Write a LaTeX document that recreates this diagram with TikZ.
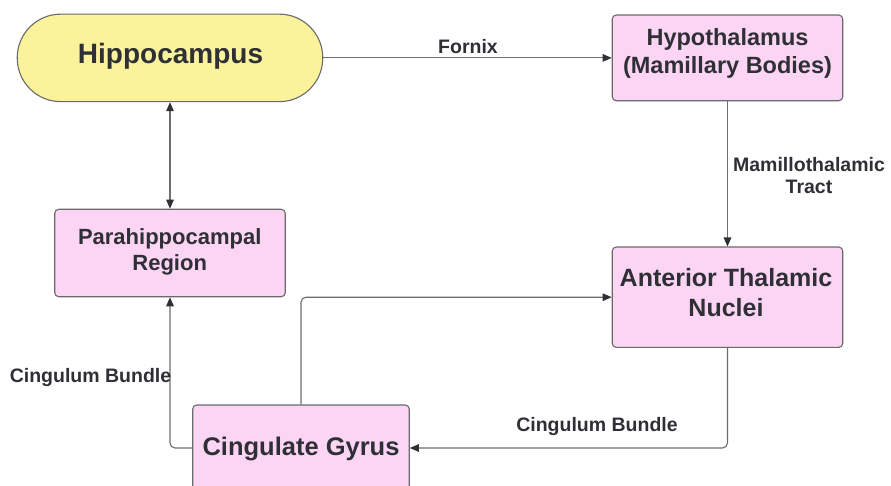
\documentclass[tikz,border=0pt]{standalone}
\usepackage{fontspec}
\setmainfont{Liberation Sans}
\usetikzlibrary{arrows.meta}
\definecolor{pinkfill}{HTML}{FCD5F5}
\definecolor{yellowfill}{HTML}{FBF29C}
\definecolor{boxline}{HTML}{6A6A6A}
\definecolor{connline}{HTML}{6E6E6E}
\definecolor{txt}{HTML}{2E3036}
\tikzset{
  pinkbox/.style={draw=boxline, line width=1.1pt, fill=pinkfill, rounded corners=4pt, inner sep=0pt},
  yellowstad/.style={draw=boxline, line width=1.1pt, fill=yellowfill, rounded corners=43.5pt, inner sep=0pt},
  boxtext/.style={text=txt, font=\bfseries, align=center, inner sep=0pt},
  lbl/.style={text=txt, font=\bfseries\fontsize{19.5}{21.7}\selectfont, align=center, inner sep=0pt},
  conn/.style={draw=connline, line width=1.1pt, rounded corners=5pt, -{Triangle[length=9pt,width=7.5pt,color=txt]}},
  conn2/.style={draw=connline, line width=1.1pt, {Triangle[length=9pt,width=7.5pt,color=txt]}-{Triangle[length=9pt,width=7.5pt,color=txt]}}
}
\begin{document}
\begin{tikzpicture}[x=1pt,y=-1pt]
\useasboundingbox (0,0) rectangle (891,486);
\clip (0,0) rectangle (891,486);
\fill[white] (0,0) rectangle (891,486);
% shapes
\node[yellowstad, minimum width=305.5pt, minimum height=87.5pt] (hip) at (170,57.9) {};
\node[pinkbox, minimum width=230.5pt, minimum height=85.7pt] (hyp) at (727.5,57.9) {};
\node[pinkbox, minimum width=230.5pt, minimum height=87.4pt] (para) at (170,253) {};
\node[pinkbox, minimum width=230.5pt, minimum height=100.3pt] (ant) at (727.5,297.2) {};
\node[pinkbox, minimum width=216.5pt, minimum height=86pt] (cing) at (301,448) {};
% texts
\node[boxtext, font=\bfseries\fontsize{28}{33.6}\selectfont, anchor=base] (thip) at (170.5,64) {Hippocampus};
\node[boxtext, font=\bfseries\fontsize{23.5}{28}\selectfont] (thyp) at (727.5,53) {Hypothalamus\\(Mamillary Bodies)};
\node[boxtext, font=\bfseries\fontsize{22}{26.2}\selectfont] (tpara) at (169.7,251.5) {Parahippocampal\\Region};
\node[boxtext, font=\bfseries\fontsize{25}{30}\selectfont] (tant) at (726,292.7) {Anterior Thalamic\\Nuclei};
\node[boxtext, font=\bfseries\fontsize{25.5}{30.6}\selectfont, anchor=base] (tcing) at (301,455) {Cingulate Gyrus};
% connectors
\draw[conn] (hip.east) -- (hyp.west);
\draw[conn2] (hip.south) -- (para.north);
\draw[conn] (hyp.south) -- (ant.north);
\draw[conn] (ant.south) |- (cing.east);
\draw[conn] (cing.west) -| (para.south);
\draw[conn] (cing.north) |- (ant.west);
% labels
\node[lbl, anchor=base] (lfornix) at (468,54) {Fornix};
\node[lbl] (lmam) at (809,175.4) {Mamillothalamic\\Tract};
\node[lbl, anchor=base] (lcb1) at (90.5,382.3) {Cingulum Bundle};
\node[lbl, anchor=base] (lcb2) at (597,431) {Cingulum Bundle};
\end{tikzpicture}
\end{document}
